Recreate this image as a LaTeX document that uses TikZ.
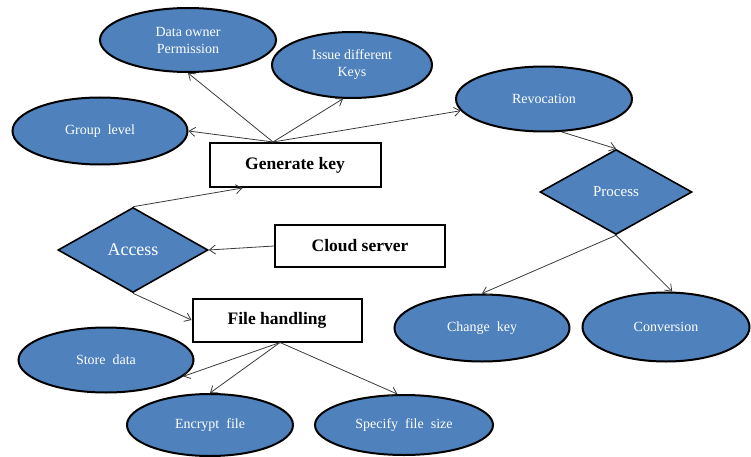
\documentclass[tikz,border=0pt]{standalone}
\usepackage{fontspec}
\setmainfont{Liberation Serif}
\usetikzlibrary{shapes.geometric,calc,arrows.meta}
\definecolor{fillblue}{HTML}{4F81BD}
\definecolor{arrowgray}{HTML}{3A3A3A}
\tikzset{
  ell/.style={ellipse,draw=black,line width=2pt,fill=fillblue,text=white,inner sep=0pt,align=center,font=\fontsize{14}{17}\selectfont},
  dia/.style={diamond,draw=black,line width=1.6pt,fill=fillblue,text=white,inner sep=0pt,align=center},
  boxn/.style={rectangle,draw=black,line width=2pt,fill=white,inner sep=0pt,font=\fontsize{17.5}{20}\selectfont\bfseries},
  conn/.style={draw=arrowgray,line width=0.8pt,-{Straight Barb[length=6pt,width=9pt]}},
}
\begin{document}
\begin{tikzpicture}[x=1pt,y=-1pt]
\useasboundingbox (0,0) rectangle (751,457);
% ellipses
\node[ell,minimum width=176pt,minimum height=64pt] (dop) at (188,40) {Data owner\\Permission};
\node[ell,minimum width=160pt,minimum height=66pt] (ik) at (352,65) {Issue different\\Keys};
\node[ell,minimum width=175pt,minimum height=67pt] (gl) at (100,131) {Group\ \ level};
\node[ell,minimum width=176pt,minimum height=65pt] (rev) at (544,99) {Revocation};
\node[ell,minimum width=175pt,minimum height=67pt] (ck) at (482,328) {Change\ \ key};
\node[ell,minimum width=167pt,minimum height=69pt] (conv) at (666,327) {Conversion};
\node[ell,minimum width=175pt,minimum height=65pt] (sd) at (106,360) {Store\ \ data};
\node[ell,minimum width=166pt,minimum height=62pt] (enc) at (210,425) {Encrypt\ \ file};
\node[ell,minimum width=178pt,minimum height=60pt] (spf) at (404,425) {Specify\ \ file\ \ size};
% diamonds
\node[dia,minimum width=152pt,minimum height=85pt,font=\fontsize{15}{18}\selectfont] (proc) at (616,192) {Process};
\node[dia,minimum width=150pt,minimum height=85pt,font=\fontsize{18}{21}\selectfont] (acc) at (133,250) {Access};
% boxes
\node[boxn,minimum width=171pt,minimum height=44pt] (gk) at (295,165) {Generate key};
\node[boxn,minimum width=170pt,minimum height=42pt] (cs) at (360,246) {Cloud server};
\node[boxn,minimum width=169pt,minimum height=43pt] (fh) at (277,320) {File handling};
% start points
\coordinate (gks) at ($(gk.north)+(-22,0)$);
\coordinate (fhs) at ($(fh.south)+(3,0)$);
% connectors
\draw[conn] (gks) -- (dop.south);
\draw[conn] (gks) -- (ik.255);
\draw[conn] (gks) -- (gl.east);
\draw[conn] (gks) -- (rev.188);
\draw[conn] (acc.north) -- ($(gk.south west)+(34,0)$);
\draw[conn] (cs.west) -- (acc.east);
\draw[conn] (acc.south) -- (fh.west);
\draw[conn] (rev.-62) -- (proc.north);
\draw[conn] (proc.south) -- (ck.north);
\draw[conn] (proc.south) -- (conv.80);
\draw[conn] (fhs) -- (sd.-12);
\draw[conn] (fhs) -- (enc.north);
\draw[conn] (fhs) -- (spf.102);
\end{tikzpicture}
\end{document}
